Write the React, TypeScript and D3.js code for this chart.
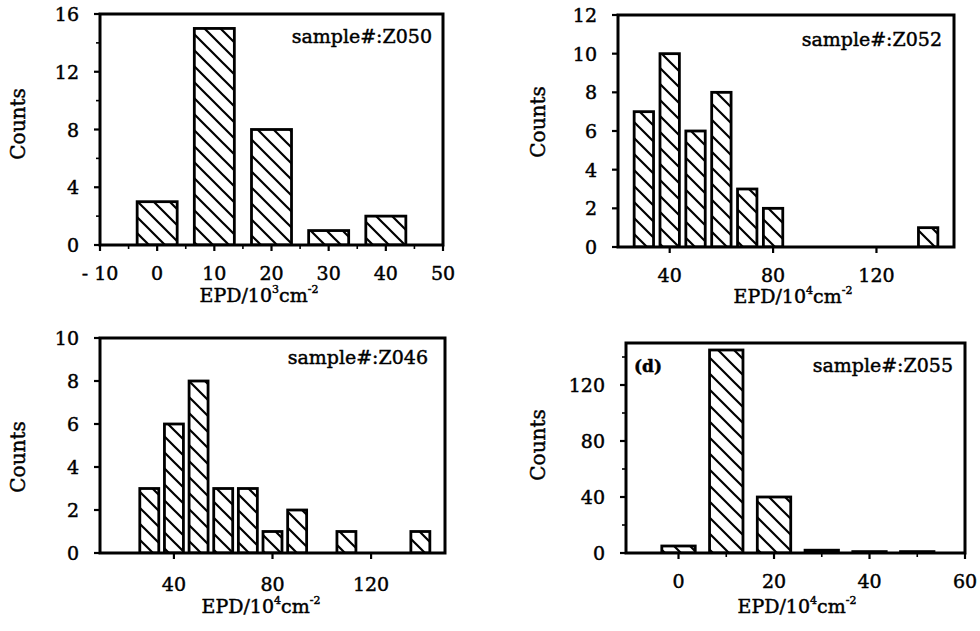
import * as d3 from "d3";

// (a) sample Z050, EPD in 10^3 cm^-2
const binsA = [0, 10, 20, 30, 40];
const countsA = [3, 15, 8, 1, 2];
const xTicksA = [-10, 0, 10, 20, 30, 40, 50];
const yTicksA = [0, 4, 8, 12, 16];

// (b) sample Z052
const binsB = [30, 40, 50, 60, 70, 80, 140];
const countsB = [7, 10, 6, 8, 3, 2, 1];
const xTicksB = [40, 80, 120];
const yTicksB = [0, 2, 4, 6, 8, 10, 12];

// (c) sample Z046
const binsC = [30, 40, 50, 60, 70, 80, 90, 110, 140];
const countsC = [3, 6, 8, 3, 3, 1, 2, 1, 1];
const xTicksC = [40, 80, 120];
const yTicksC = [0, 2, 4, 6, 8, 10];

// (d) sample Z055
const binsD = [0, 10, 20, 30, 40, 50];
const countsD = [5, 145, 40, 2, 1, 1];
const xTicksD = [0, 20, 40, 60];
const yTicksD = [0, 40, 80, 120];

const FONT = "'DejaVu Serif', 'Liberation Serif', serif";
// scanned print looks a bit heavier than a regular face
const INK = { fill: "#000", stroke: "#000", strokeWidth: 0.45 };

type PanelProps = {
  id: string;
  box: [number, number, number, number]; // x0, x1, yTop, yBottom
  xDomain: [number, number];
  yDomain: [number, number];
  bins: number[];
  counts: number[];
  barWidth: number;
  xTicks: number[];
  yTicks: number[];
  xMinor?: number[];
  yMinor?: number[];
  sample: string;
  exponent: string;
  labelPos: { sx: number; sy: number; cx: number; cy: number; ex: number; ey: number; tx: number };
  tag?: string;
};

const Panel = (p: PanelProps) => {
  const [x0, x1, yT, yB] = p.box;
  const xScale = d3.scaleLinear().domain(p.xDomain).range([x0, x1]);
  const yScale = d3.scaleLinear().domain(p.yDomain).range([yB, yT]);
  const clipId = `clip-${p.id}`;

  const bars = p.bins.map((b, i) => {
    const left = xScale(b - p.barWidth / 2);
    const right = xScale(b + p.barWidth / 2);
    const top = yScale(p.counts[i]);
    return (
      <rect
        key={i}
        x={left}
        y={top}
        width={right - left}
        height={yB - top}
        fill="url(#hatch)"
        stroke="#000"
        strokeWidth={2.8}
      />
    );
  });

  return (
    <g>
      <defs>
        <clipPath id={clipId}>
          <rect x={x0} y={yT} width={x1 - x0} height={yB - yT} />
        </clipPath>
      </defs>
      <g clipPath={`url(#${clipId})`}>{bars}</g>
      <path
        d={`M${x0},${yT}H${x1}V${yB}H${x0}Z`}
        fill="none"
        stroke="#000"
        strokeWidth={3}
      />

      {p.xTicks.map((t, i) => (
        <g key={i}>
          <line x1={xScale(t)} x2={xScale(t)} y1={yB} y2={yB + 6} stroke="#000" strokeWidth={2.2} />
          <text
            x={xScale(t)}
            y={yB + p.labelPos.tx}
            textAnchor="middle"
            dominantBaseline="central"
            fontSize={19}
            fontFamily={FONT}
            {...INK}
          >
            {t < 0 ? `- ${Math.abs(t)}` : t}
          </text>
        </g>
      ))}
      {(p.xMinor || []).map((t, i) => (
        <line key={i} x1={xScale(t)} x2={xScale(t)} y1={yB} y2={yB + 4} stroke="#000" strokeWidth={1.6} />
      ))}

      {p.yTicks.map((t, i) => (
        <g key={i}>
          <line x1={x0 - 6} x2={x0} y1={yScale(t)} y2={yScale(t)} stroke="#000" strokeWidth={2.2} />
          <text
            x={x0 - 21}
            y={yScale(t)}
            textAnchor="end"
            dominantBaseline="central"
            fontSize={19}
            fontFamily={FONT}
            {...INK}
          >
            {t}
          </text>
        </g>
      ))}
      {(p.yMinor || []).map((t, i) => (
        <line key={i} x1={x0 - 4} x2={x0} y1={yScale(t)} y2={yScale(t)} stroke="#000" strokeWidth={1.6} />
      ))}

      <text
        x={p.labelPos.sx}
        y={p.labelPos.sy}
        textAnchor="end"
        fontSize={19}
        fontFamily={FONT}
        {...INK}
      >
        {p.sample}
      </text>
      {p.tag && (
        <text x={x0 + 8} y={p.labelPos.sy} fontSize={17} fontWeight="bold" fontFamily={FONT} {...INK}>
          {p.tag}
        </text>
      )}

      <text
        transform={`translate(${p.labelPos.cx},${p.labelPos.cy}) rotate(-90)`}
        textAnchor="middle"
        dominantBaseline="central"
        fontSize={20}
        fontFamily={FONT}
        {...INK}
      >
        Counts
      </text>

      <text x={p.labelPos.ex} y={p.labelPos.ey} textAnchor="middle" fontSize={19} fontFamily={FONT} {...INK}>
        EPD/10
        <tspan fontSize={11} dy={-9}>{p.exponent}</tspan>
        <tspan dy={9}>cm</tspan>
        <tspan fontSize={11} dy={-9}>-2</tspan>
      </text>
    </g>
  );
};

const App = () => {
  const width = 980,
    height = 631;
  return (
    <svg
      width={width}
      height={height}
      style={{ position: "absolute", left: 0, top: 0, background: "#fff" }}
    >
      <defs>
        <pattern id="hatch" patternUnits="userSpaceOnUse" width={16} height={16}>
          <rect width={16} height={16} fill="#fff" />
          <path d="M-4,-4 L20,20 M-4,12 L4,20 M12,-4 L20,4" stroke="#000" strokeWidth={2.2} />
        </pattern>
      </defs>
      <rect width={width} height={height} fill="#fff" />

      <Panel
        id="a"
        box={[100, 443, 14, 245]}
        xDomain={[-10, 50]}
        yDomain={[0, 16]}
        bins={binsA}
        counts={countsA}
        barWidth={7}
        xTicks={xTicksA}
        yTicks={yTicksA}
        xMinor={[-5, 5, 15, 25, 35, 45]}
        yMinor={[2, 6, 10, 14]}
        sample="sample#:Z050"
        exponent="3"
        labelPos={{ sx: 432, sy: 43, cx: 18, cy: 124, ex: 259, ey: 302, tx: 28 }}
      />
      <Panel
        id="b"
        box={[618, 954, 15, 247]}
        xDomain={[20, 150]}
        yDomain={[0, 12]}
        bins={binsB}
        counts={countsB}
        barWidth={7.5}
        xTicks={xTicksB}
        yTicks={yTicksB}
        sample="sample#:Z052"
        exponent="4"
        labelPos={{ sx: 942, sy: 46, cx: 538, cy: 122, ex: 793, ey: 303, tx: 28 }}
      />
      <Panel
        id="c"
        box={[100, 445, 338, 553]}
        xDomain={[10, 150]}
        yDomain={[0, 10]}
        bins={binsC}
        counts={countsC}
        barWidth={7.7}
        xTicks={xTicksC}
        yTicks={yTicksC}
        sample="sample#:Z046"
        exponent="4"
        labelPos={{ sx: 428, sy: 364, cx: 18, cy: 457, ex: 261, ey: 613, tx: 31 }}
      />
      <Panel
        id="d"
        box={[626, 965, 343, 553]}
        xDomain={[-11, 60]}
        yDomain={[0, 150]}
        bins={binsD}
        counts={countsD}
        barWidth={7}
        xTicks={xTicksD}
        yTicks={yTicksD}
        xMinor={[10, 30, 50]}
        yMinor={[20, 60, 100, 140]}
        sample="sample#:Z055"
        exponent="4"
        tag="(d)"
        labelPos={{ sx: 953, sy: 372, cx: 538, cy: 445, ex: 797, ey: 613, tx: 28 }}
      />
    </svg>
  );
};

export default App;
